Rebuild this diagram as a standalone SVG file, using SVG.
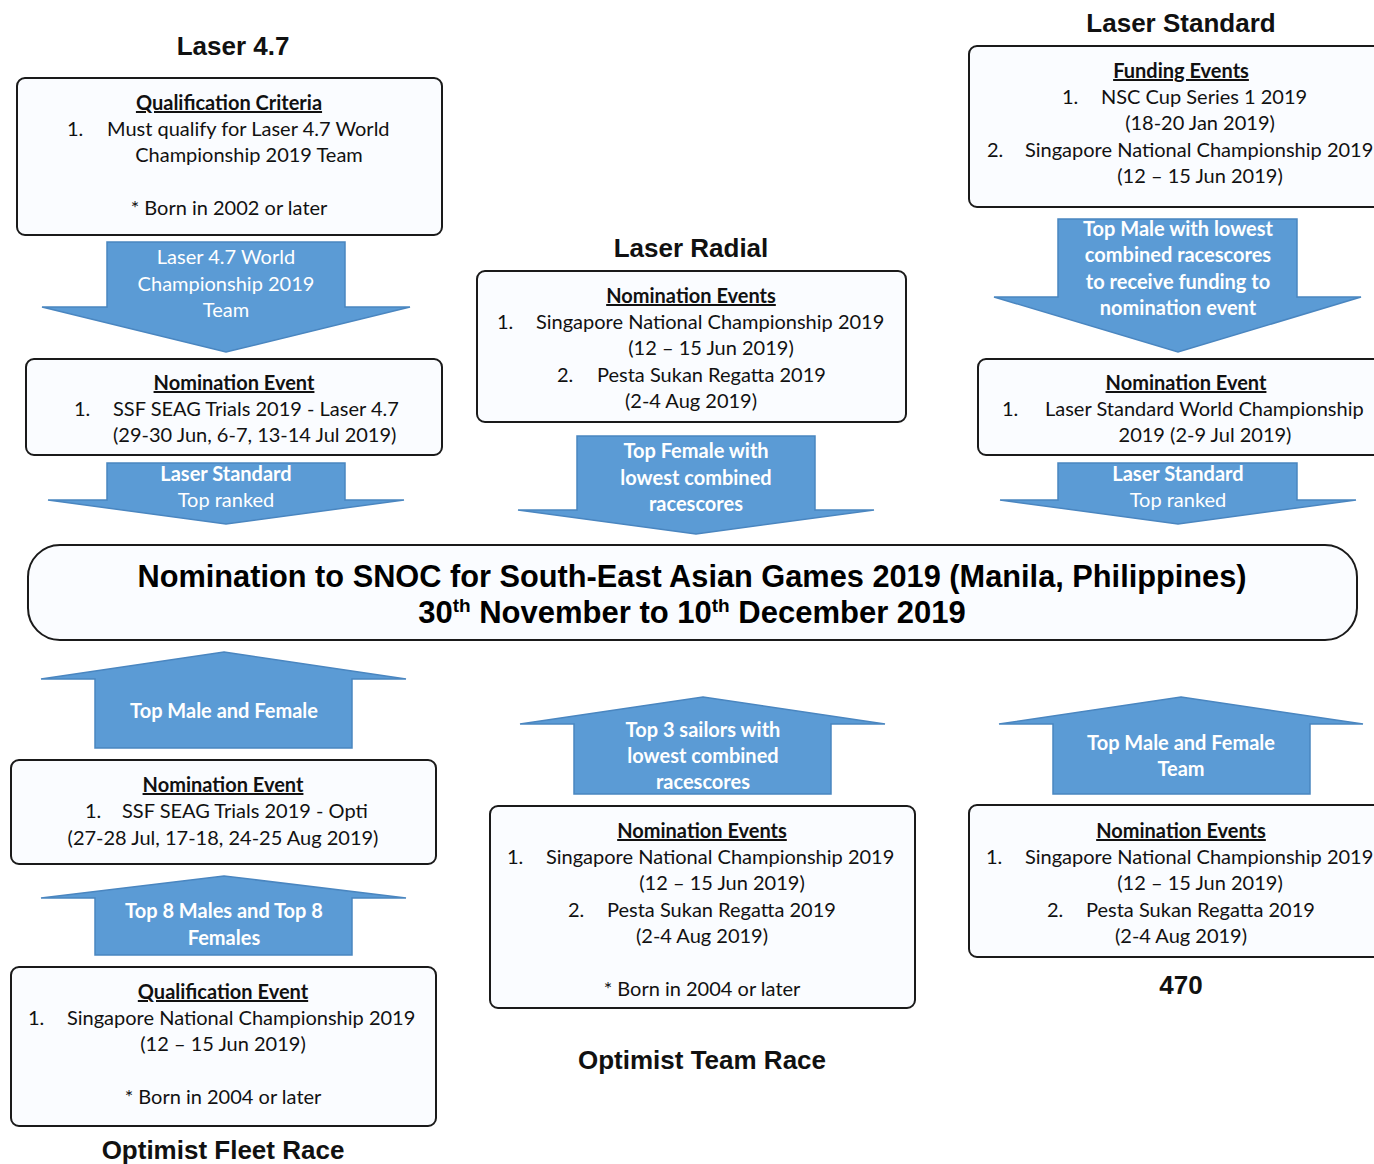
<svg xmlns="http://www.w3.org/2000/svg" width="1374" height="1164" viewBox="0 0 1374 1164">
<style>
.bg{fill:#ffffff}
.box{fill:#fafcff;stroke:#1a1a1a;stroke-width:2}
.arr{fill:#5b9bd5;stroke:#4a86c0;stroke-width:1.5}
.t{font-family:Lato,"Open Sans","Liberation Sans",sans-serif;font-size:20px;fill:#111}
.h{font-family:Lato,"Open Sans","Liberation Sans",sans-serif;font-size:20px;font-weight:bold;fill:#111;text-decoration:underline}
.c{text-anchor:middle}
.w{font-family:Lato,"Open Sans","Liberation Sans",sans-serif;font-size:20px;fill:#fff;text-anchor:middle}
.wb{font-weight:bold}
.title{font-family:"Liberation Sans",Arial,sans-serif;font-size:26px;font-weight:bold;fill:#111;text-anchor:middle}
.main{font-family:"Liberation Sans",Arial,sans-serif;font-size:31px;font-weight:bold;fill:#000;text-anchor:middle}
</style>
<rect class="bg" x="0" y="0" width="1374" height="1164"/>

<g id="connectors">
  <g id="arrow-l47-down1">
    <polygon class="arr" points="107,242 345,242 345,307 410,307 226,352 42,307 107,307"/>
    <text class="w" x="226" y="264">Laser 4.7 World</text>
    <text class="w" x="226" y="291">Championship 2019</text>
    <text class="w" x="226" y="317">Team</text>
  </g>
  <g id="arrow-l47-down2">
    <polygon class="arr" points="107,463 345,463 345,500 404,500 226,524 48,500 107,500"/>
    <text class="w wb" x="226" y="481">Laser Standard</text>
    <text class="w" x="226" y="507">Top ranked</text>
  </g>
  <g id="arrow-radial-down">
    <polygon class="arr" points="577,436 815,436 815,510 874,510 696,534 518,510 577,510"/>
    <text class="w wb" x="696" y="458">Top Female with</text>
    <text class="w wb" x="696" y="485">lowest combined</text>
    <text class="w wb" x="696" y="511">racescores</text>
  </g>
  <g id="arrow-std-down1">
    <polygon class="arr" points="1058,219 1297,219 1297,297 1361,297 1178,352 994,297 1058,297"/>
    <text class="w wb" x="1178" y="236">Top Male with lowest</text>
    <text class="w wb" x="1178" y="262">combined racescores</text>
    <text class="w wb" x="1178" y="289">to receive funding to</text>
    <text class="w wb" x="1178" y="315">nomination event</text>
  </g>
  <g id="arrow-std-down2">
    <polygon class="arr" points="1058,463 1297,463 1297,500 1356,500 1178,524 1000,500 1058,500"/>
    <text class="w wb" x="1178" y="481">Laser Standard</text>
    <text class="w" x="1178" y="507">Top ranked</text>
  </g>
  <g id="arrow-opti-up1">
    <polygon class="arr" points="224,652 406,679 352,679 352,748 95,748 95,679 41,679"/>
    <text class="w wb" x="224" y="718">Top Male and Female</text>
  </g>
  <g id="arrow-opti-up2">
    <polygon class="arr" points="224,876 406,898 352,898 352,955 95,955 95,898 41,898"/>
    <text class="w wb" x="224" y="918">Top 8 Males and Top 8</text>
    <text class="w wb" x="224" y="945">Females</text>
  </g>
  <g id="arrow-team-up">
    <polygon class="arr" points="703,697 885,724 831,724 831,794 574,794 574,724 520,724"/>
    <text class="w wb" x="703" y="737">Top 3 sailors with</text>
    <text class="w wb" x="703" y="763">lowest combined</text>
    <text class="w wb" x="703" y="789">racescores</text>
  </g>
  <g id="arrow-470-up">
    <polygon class="arr" points="1181,697 1363,724 1310,724 1310,794 1053,794 1053,724 999,724"/>
    <text class="w wb" x="1181" y="750">Top Male and Female</text>
    <text class="w wb" x="1181" y="776">Team</text>
  </g>
</g>

<g id="title-laser47"><text class="title" x="233" y="55">Laser 4.7</text></g>
<g id="node-l47-qual">
  <rect class="box" x="17" y="78" width="425" height="157" rx="8"/>
  <text class="h c" x="229" y="110">Qualification Criteria</text>
  <text class="t" x="67" y="136">1.</text>
  <text class="t" x="107" y="136">Must qualify for Laser 4.7 World</text>
  <text class="t c" x="249" y="162">Championship 2019 Team</text>
  <text class="t c" x="229" y="215">* Born in 2002 or later</text>
</g>
<g id="node-l47-nom">
  <rect class="box" x="26" y="359" width="416" height="96" rx="8"/>
  <text class="h c" x="234" y="390">Nomination Event</text>
  <text class="t" x="74" y="416">1.</text>
  <text class="t" x="113" y="416">SSF SEAG Trials 2019 - Laser 4.7</text>
  <text class="t" x="113" y="442">(29-30 Jun, 6-7, 13-14 Jul 2019)</text>
</g>

<g id="title-radial"><text class="title" x="691" y="257">Laser Radial</text></g>
<g id="node-radial-nom">
  <rect class="box" x="477" y="271" width="429" height="151" rx="8"/>
  <text class="h c" x="691" y="303">Nomination Events</text>
  <text class="t" x="497" y="329">1.</text>
  <text class="t" x="536" y="329">Singapore National Championship 2019</text>
  <text class="t c" x="711" y="355">(12 – 15 Jun 2019)</text>
  <text class="t" x="557" y="382">2.</text>
  <text class="t" x="597" y="382">Pesta Sukan Regatta 2019</text>
  <text class="t c" x="691" y="408">(2-4 Aug 2019)</text>
</g>

<g id="title-standard"><text class="title" x="1181" y="32">Laser Standard</text></g>
<g id="node-std-fund">
  <rect class="box" x="969" y="46" width="424" height="161" rx="8"/>
  <text class="h c" x="1181" y="78">Funding Events</text>
  <text class="t" x="1062" y="104">1.</text>
  <text class="t" x="1101" y="104">NSC Cup Series 1 2019</text>
  <text class="t c" x="1200" y="130">(18-20 Jan 2019)</text>
  <text class="t" x="987" y="157">2.</text>
  <text class="t" x="1025" y="157">Singapore National Championship 2019</text>
  <text class="t c" x="1200" y="183">(12 – 15 Jun 2019)</text>
</g>
<g id="node-std-nom">
  <rect class="box" x="978" y="359" width="416" height="96" rx="8"/>
  <text class="h c" x="1186" y="390">Nomination Event</text>
  <text class="t" x="1002" y="416">1.</text>
  <text class="t" x="1045" y="416">Laser Standard World Championship</text>
  <text class="t c" x="1205" y="442">2019 (2-9 Jul 2019)</text>
</g>

<g id="node-main">
  <rect class="box" x="28" y="545" width="1329" height="95" rx="32" stroke-width="2.2"/>
  <text class="main" x="692" y="587" textLength="1109" lengthAdjust="spacingAndGlyphs">Nomination to SNOC for South-East Asian Games 2019 (Manila, Philippines)</text>
  <text class="main" x="692" y="623">30<tspan font-size="19" dy="-11">th</tspan><tspan dy="11"> November to 10</tspan><tspan font-size="19" dy="-11">th</tspan><tspan dy="11"> December 2019</tspan></text>
</g>

<g id="node-opti-nom">
  <rect class="box" x="11" y="760" width="425" height="104" rx="8"/>
  <text class="h c" x="223" y="792">Nomination Event</text>
  <text class="t" x="85" y="818">1.</text>
  <text class="t" x="122" y="818">SSF SEAG Trials 2019 - Opti</text>
  <text class="t c" x="223" y="845">(27-28 Jul, 17-18, 24-25 Aug 2019)</text>
</g>
<g id="node-opti-qual">
  <rect class="box" x="11" y="967" width="425" height="159" rx="8"/>
  <text class="h c" x="223" y="999">Qualification Event</text>
  <text class="t" x="28" y="1025">1.</text>
  <text class="t" x="67" y="1025">Singapore National Championship 2019</text>
  <text class="t c" x="223" y="1051">(12 – 15 Jun 2019)</text>
  <text class="t c" x="223" y="1104">* Born in 2004 or later</text>
</g>
<g id="title-fleet"><text class="title" x="223" y="1159">Optimist Fleet Race</text></g>

<g id="node-team-nom">
  <rect class="box" x="490" y="806" width="425" height="202" rx="8"/>
  <text class="h c" x="702" y="838">Nomination Events</text>
  <text class="t" x="507" y="864">1.</text>
  <text class="t" x="546" y="864">Singapore National Championship 2019</text>
  <text class="t c" x="722" y="890">(12 – 15 Jun 2019)</text>
  <text class="t" x="568" y="917">2.</text>
  <text class="t" x="607" y="917">Pesta Sukan Regatta 2019</text>
  <text class="t c" x="702" y="943">(2-4 Aug 2019)</text>
  <text class="t c" x="702" y="996">* Born in 2004 or later</text>
</g>
<g id="title-team"><text class="title" x="702" y="1069">Optimist Team Race</text></g>

<g id="node-470-nom">
  <rect class="box" x="969" y="805" width="424" height="152" rx="8"/>
  <text class="h c" x="1181" y="838">Nomination Events</text>
  <text class="t" x="986" y="864">1.</text>
  <text class="t" x="1025" y="864">Singapore National Championship 2019</text>
  <text class="t c" x="1200" y="890">(12 – 15 Jun 2019)</text>
  <text class="t" x="1047" y="917">2.</text>
  <text class="t" x="1086" y="917">Pesta Sukan Regatta 2019</text>
  <text class="t c" x="1181" y="943">(2-4 Aug 2019)</text>
</g>
<g id="title-470"><text class="title" x="1181" y="994">470</text></g>
</svg>
